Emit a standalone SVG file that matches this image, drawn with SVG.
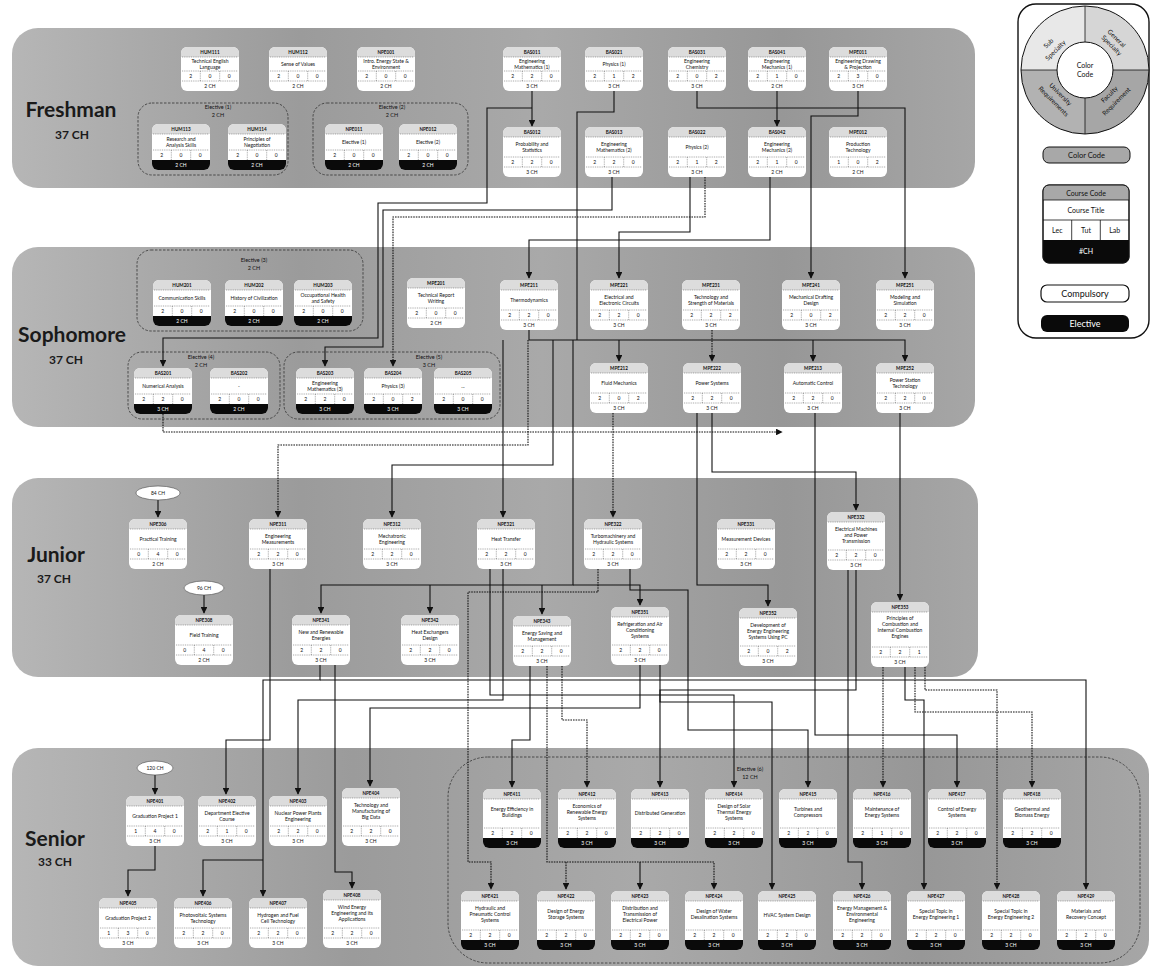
<svg xmlns="http://www.w3.org/2000/svg" xmlns:xlink="http://www.w3.org/1999/xlink" width="1152" height="969" viewBox="0 0 1152 969">
<style>
text{font-family:Lato,"Open Sans","Liberation Sans",sans-serif;text-anchor:middle;fill:#111}
.cd{font-size:4.6px;font-weight:bold}
.t{font-size:5px}
.nm{font-size:5px}
.ch{font-size:5px}
.w{fill:#fff}
.gl{font-size:5.5px}
.yl{font-weight:bold;font-size:21px;fill:#1a1a1a}
.yc{font-weight:bold;font-size:12px;fill:#1a1a1a}
.nb{fill:#fff}
.hd{fill:#dcdcdc}
.dl{fill:none;stroke:#555;stroke-width:0.5;stroke-dasharray:1 0.8}
.blk{fill:#0a0a0a}
.grp{fill:none;stroke:#333;stroke-width:0.8;stroke-dasharray:2.5 1.5}
.c{fill:none;stroke:#111;stroke-width:1.1}
.d{stroke-dasharray:1.6 1}
.ov{fill:#fff;stroke:#444;stroke-width:0.6}
.lg{fill:none;stroke:#111;stroke-width:1.4}
</style>
<defs>
<linearGradient id="bg" x1="0" x2="1" y1="0" y2="0">
<stop offset="0" stop-color="#b6b6b6"/><stop offset="0.3" stop-color="#9b9b9b"/><stop offset="0.55" stop-color="#a9a9a9"/><stop offset="0.8" stop-color="#979797"/><stop offset="1" stop-color="#a6a6a6"/>
</linearGradient>
<marker id="ah" viewBox="0 0 10 10" refX="9" refY="5" markerWidth="6" markerHeight="6" orient="auto"><path d="M0,0L10,5L0,10Z" fill="#111"/></marker>
<symbol id="b44" overflow="visible"><rect class="nb" width="58" height="44" rx="6"/><path class="hd" d="M0,10V6A6,6 0 0 1 6,0H52A6,6 0 0 1 58,6V10Z"/><path class="dl" d="M1,10H57M1,24H57M1,34H57M19.3,24V34M38.7,24V34"/></symbol>
<symbol id="b50" overflow="visible"><rect class="nb" width="58" height="50" rx="6"/><path class="hd" d="M0,10V6A6,6 0 0 1 6,0H52A6,6 0 0 1 58,6V10Z"/><path class="dl" d="M1,10H57M1,30H57M1,40H57M19.3,30V40M38.7,30V40"/></symbol>
<symbol id="b58" overflow="visible"><rect class="nb" width="58" height="58" rx="6"/><path class="hd" d="M0,10V6A6,6 0 0 1 6,0H52A6,6 0 0 1 58,6V10Z"/><path class="dl" d="M1,10H57M1,38H57M1,48H57M19.3,38V48M38.7,38V48"/></symbol>
<symbol id="b65" overflow="visible"><rect class="nb" width="58" height="65" rx="6"/><path class="hd" d="M0,10V6A6,6 0 0 1 6,0H52A6,6 0 0 1 58,6V10Z"/><path class="dl" d="M1,10H57M1,45H57M1,55H57M19.3,45V55M38.7,45V55"/></symbol>
<symbol id="e46" overflow="visible"><rect class="nb" width="58" height="46" rx="6"/><path class="hd" d="M0,10V6A6,6 0 0 1 6,0H52A6,6 0 0 1 58,6V10Z"/><path class="dl" d="M1,10H57M1,26H57M19.3,26V36M38.7,26V36"/><path class="blk" d="M0,36H58V40A6,6 0 0 1 52,46H6A6,6 0 0 1 0,40Z"/></symbol>
<symbol id="e59" overflow="visible"><rect class="nb" width="58" height="59" rx="6"/><path class="hd" d="M0,10V6A6,6 0 0 1 6,0H52A6,6 0 0 1 58,6V10Z"/><path class="dl" d="M1,10H57M1,39H57M19.3,39V49M38.7,39V49"/><path class="blk" d="M0,49H58V53A6,6 0 0 1 52,59H6A6,6 0 0 1 0,53Z"/></symbol>
</defs>

<rect width="1152" height="969" fill="#fff"/>

<g id="bands">
<rect x="12" y="28" width="963" height="160" rx="26" fill="url(#bg)"/>
<rect x="12" y="247" width="963" height="180" rx="26" fill="url(#bg)"/>
<rect x="12" y="478" width="966" height="199" rx="26" fill="url(#bg)"/>
<rect x="12" y="748" width="1137" height="218" rx="26" fill="url(#bg)"/>
<text class="yl" x="71" y="117">Freshman</text><text class="yc" x="72" y="139">37 CH</text>
<text class="yl" x="72" y="342">Sophomore</text><text class="yc" x="66" y="364">37 CH</text>
<text class="yl" x="56" y="562">Junior</text><text class="yc" x="54" y="583">37 CH</text>
<text class="yl" x="55" y="846">Senior</text><text class="yc" x="55" y="866">33 CH</text>
</g>

<g id="groups">
<rect class="grp" x="138" y="103" width="150" height="72" rx="14"/><text class="gl" x="218" y="109">Elective (1)</text><text class="gl" x="218" y="117">2 CH</text>
<rect class="grp" x="313" y="103" width="155" height="72" rx="14"/><text class="gl" x="392" y="109">Elective (2)</text><text class="gl" x="392" y="117">2 CH</text>
<rect class="grp" x="137" y="250" width="226" height="81" rx="14"/><text class="gl" x="254" y="262">Elective (3)</text><text class="gl" x="254" y="270">2 CH</text>
<rect class="grp" x="128" y="352" width="152" height="67" rx="14"/><text class="gl" x="201" y="359">Elective (4)</text><text class="gl" x="201" y="367">2 CH</text>
<rect class="grp" x="284" y="352" width="216" height="67" rx="14"/><text class="gl" x="429" y="359">Elective (5)</text><text class="gl" x="429" y="367">3 CH</text>
<rect class="grp" x="448" y="757" width="692" height="206" rx="40"/><text class="gl" x="750" y="771">Elective (6)</text><text class="gl" x="750" y="779">12 CH</text>
</g>

<g id="connectors">
<path class="c" d="M532,91V126" marker-end="url(#ah)"/>
<path class="c" d="M777,91V126" marker-end="url(#ah)"/>
<path class="c" d="M532,108H487V203H378V338H163V366" marker-end="url(#ah)"/>
<path class="c" d="M612,177V210H383V347H325V366" marker-end="url(#ah)"/>
<path class="c d" d="M705,177V217H393V366" marker-end="url(#ah)"/>
<path class="c" d="M614,91V112H577V340"/>
<path class="c" d="M690,177V232H619V278" marker-end="url(#ah)"/>
<path class="c" d="M770,177V240H529V278" marker-end="url(#ah)"/>
<path class="c" d="M697,91V108H905V278" marker-end="url(#ah)"/>
<path class="c" d="M858,91V116H811V278" marker-end="url(#ah)"/>
<path class="c" d="M529,330V340H905V361" marker-end="url(#ah)"/>
<path class="c" d="M619,340V361" marker-end="url(#ah)"/>
<path class="c d" d="M712,330V361" marker-end="url(#ah)"/>
<path class="c" d="M813,340V361" marker-end="url(#ah)"/>
<path class="c d" d="M163,414V432H782" marker-end="url(#ah)"/>
<path class="c" d="M503,340V517" marker-end="url(#ah)"/>
<path class="c d" d="M528,340V445H278V517" marker-end="url(#ah)"/>
<path class="c" d="M553,340V465H392V517" marker-end="url(#ah)"/>
<path class="c" d="M573,340V585H321V613" marker-end="url(#ah)"/>
<path class="c" d="M430,585V613" marker-end="url(#ah)"/>
<path class="c" d="M542,585V614" marker-end="url(#ah)"/>
<path class="c" d="M573,585H640V605" marker-end="url(#ah)"/>
<path class="c d" d="M613,413V517" marker-end="url(#ah)"/>
<path class="c" d="M712,413V472H856V510" marker-end="url(#ah)"/>
<path class="c" d="M697,413V585H768V606" marker-end="url(#ah)"/>
<path class="c" d="M900,413V600" marker-end="url(#ah)"/>
<path class="c" d="M158,500V517" marker-end="url(#ah)"/>
<path class="c" d="M204,595V613" marker-end="url(#ah)"/>
<path class="c" d="M155,775V794" marker-end="url(#ah)"/>
<path class="c" d="M155,846V870H128V896" marker-end="url(#ah)"/>
<path class="c" d="M270,569V740H226V794" marker-end="url(#ah)"/>
<path class="c" d="M503,569V700H298V794" marker-end="url(#ah)"/>
<path class="c" d="M640,665V708H370V786" marker-end="url(#ah)"/>
<path class="c" d="M320,665V680H263V896" marker-end="url(#ah)"/>
<path class="c" d="M263,860H203V896" marker-end="url(#ah)"/>
<path class="c" d="M335,665V872H352V888" marker-end="url(#ah)"/>
<path class="c" d="M320,680H1086V889" marker-end="url(#ah)"/>
<path class="c" d="M490,569V695H734V787" marker-end="url(#ah)"/>
<path class="c d" d="M598,569V592H468V862H491V889" marker-end="url(#ah)"/>
<path class="c" d="M530,666V740H512V787" marker-end="url(#ah)"/>
<path class="c d" d="M547,666V862H714V889" marker-end="url(#ah)"/>
<path class="c d" d="M566,862V889" marker-end="url(#ah)"/>
<path class="c" d="M640,862V889" marker-end="url(#ah)"/>
<path class="c d" d="M562,666V720H587V787" marker-end="url(#ah)"/>
<path class="c" d="M660,665V702H772V889" marker-end="url(#ah)"/>
<path class="c" d="M630,569V590H688V730H808V787" marker-end="url(#ah)"/>
<path class="c" d="M856,570V690H660V787" marker-end="url(#ah)"/>
<path class="c" d="M848,570V862H862V889" marker-end="url(#ah)"/>
<path class="c d" d="M883,667V787" marker-end="url(#ah)"/>
<path class="c" d="M815,413V735H957V787" marker-end="url(#ah)"/>
<path class="c d" d="M915,667V712H1032V787" marker-end="url(#ah)"/>
<path class="c" d="M905,667V700H924V889" marker-end="url(#ah)"/>
<path class="c d" d="M925,667V690H997V889" marker-end="url(#ah)"/>
</g>

<g id="ovals">
<g id="o-84"><ellipse class="ov" cx="158" cy="493" rx="22" ry="7"/><text class="t" x="158" y="494.8">84 CH</text></g>
<g id="o-96"><ellipse class="ov" cx="204" cy="588" rx="20" ry="7"/><text class="t" x="204" y="589.8">96 CH</text></g>
<g id="o-120"><ellipse class="ov" cx="155" cy="768" rx="18" ry="7"/><text class="t" x="155" y="769.8">120 CH</text></g>
</g>

<g id="n-F1" transform="translate(181,47)"><use href="#b44"/><text class="cd" x="29" y="7">HUM111</text><text class="t" x="29" y="15.8">Technical English</text><text class="t" x="29" y="21.8">Language</text><text class="nm" y="30.5"><tspan x="9.7">2</tspan><tspan x="29">0</tspan><tspan x="48.3">0</tspan></text><text class="ch" x="29" y="40.8">2 CH</text></g>
<g id="n-F2" transform="translate(269,47)"><use href="#b44"/><text class="cd" x="29" y="7">HUM112</text><text class="t" x="29" y="19">Sense of Values</text><text class="nm" y="30.5"><tspan x="9.7">2</tspan><tspan x="29">0</tspan><tspan x="48.3">0</tspan></text><text class="ch" x="29" y="40.8">2 CH</text></g>
<g id="n-F3" transform="translate(357,47)"><use href="#b44"/><text class="cd" x="29" y="7">NPE001</text><text class="t" x="29" y="15.8">Intro. Energy State &amp;</text><text class="t" x="29" y="21.8">Environment</text><text class="nm" y="30.5"><tspan x="9.7">2</tspan><tspan x="29">0</tspan><tspan x="48.3">0</tspan></text><text class="ch" x="29" y="40.8">2 CH</text></g>
<g id="n-F4" transform="translate(503,47)"><use href="#b44"/><text class="cd" x="29" y="7">BAS011</text><text class="t" x="29" y="15.8">Engineering</text><text class="t" x="29" y="21.8">Mathematics (1)</text><text class="nm" y="30.5"><tspan x="9.7">2</tspan><tspan x="29">2</tspan><tspan x="48.3">0</tspan></text><text class="ch" x="29" y="40.8">3 CH</text></g>
<g id="n-F5" transform="translate(585,47)"><use href="#b44"/><text class="cd" x="29" y="7">BAS021</text><text class="t" x="29" y="19">Physics (1)</text><text class="nm" y="30.5"><tspan x="9.7">2</tspan><tspan x="29">1</tspan><tspan x="48.3">2</tspan></text><text class="ch" x="29" y="40.8">3 CH</text></g>
<g id="n-F6" transform="translate(668,47)"><use href="#b44"/><text class="cd" x="29" y="7">BAS031</text><text class="t" x="29" y="15.8">Engineering</text><text class="t" x="29" y="21.8">Chemistry</text><text class="nm" y="30.5"><tspan x="9.7">2</tspan><tspan x="29">0</tspan><tspan x="48.3">2</tspan></text><text class="ch" x="29" y="40.8">3 CH</text></g>
<g id="n-F7" transform="translate(748,47)"><use href="#b44"/><text class="cd" x="29" y="7">BAS041</text><text class="t" x="29" y="15.8">Engineering</text><text class="t" x="29" y="21.8">Mechanics (1)</text><text class="nm" y="30.5"><tspan x="9.7">2</tspan><tspan x="29">1</tspan><tspan x="48.3">0</tspan></text><text class="ch" x="29" y="40.8">2 CH</text></g>
<g id="n-F8" transform="translate(829,47)"><use href="#b44"/><text class="cd" x="29" y="7">MPE011</text><text class="t" x="29" y="15.8">Engineering Drawing</text><text class="t" x="29" y="21.8">&amp; Projection</text><text class="nm" y="30.5"><tspan x="9.7">2</tspan><tspan x="29">3</tspan><tspan x="48.3">0</tspan></text><text class="ch" x="29" y="40.8">3 CH</text></g>
<g id="n-F9" transform="translate(503,127)"><use href="#b50"/><text class="cd" x="29" y="7">BAS012</text><text class="t" x="29" y="18.5">Probability and</text><text class="t" x="29" y="25">Statistics</text><text class="nm" y="36.5"><tspan x="9.7">2</tspan><tspan x="29">2</tspan><tspan x="48.3">0</tspan></text><text class="ch" x="29" y="46.8">3 CH</text></g>
<g id="n-F10" transform="translate(585,127)"><use href="#b50"/><text class="cd" x="29" y="7">BAS013</text><text class="t" x="29" y="18.5">Engineering</text><text class="t" x="29" y="25">Mathematics (2)</text><text class="nm" y="36.5"><tspan x="9.7">2</tspan><tspan x="29">2</tspan><tspan x="48.3">0</tspan></text><text class="ch" x="29" y="46.8">3 CH</text></g>
<g id="n-F11" transform="translate(668,127)"><use href="#b50"/><text class="cd" x="29" y="7">BAS022</text><text class="t" x="29" y="22">Physics (2)</text><text class="nm" y="36.5"><tspan x="9.7">2</tspan><tspan x="29">1</tspan><tspan x="48.3">2</tspan></text><text class="ch" x="29" y="46.8">3 CH</text></g>
<g id="n-F12" transform="translate(748,127)"><use href="#b50"/><text class="cd" x="29" y="7">BAS042</text><text class="t" x="29" y="18.5">Engineering</text><text class="t" x="29" y="25">Mechanics (2)</text><text class="nm" y="36.5"><tspan x="9.7">2</tspan><tspan x="29">1</tspan><tspan x="48.3">0</tspan></text><text class="ch" x="29" y="46.8">2 CH</text></g>
<g id="n-F13" transform="translate(829,127)"><use href="#b50"/><text class="cd" x="29" y="7">MPE012</text><text class="t" x="29" y="18.5">Production</text><text class="t" x="29" y="25">Technology</text><text class="nm" y="36.5"><tspan x="9.7">1</tspan><tspan x="29">0</tspan><tspan x="48.3">2</tspan></text><text class="ch" x="29" y="46.8">2 CH</text></g>
<g id="n-F14" transform="translate(152,124)"><use href="#e46"/><text class="cd" x="29" y="7">HUM113</text><text class="t" x="29" y="16.5">Research and</text><text class="t" x="29" y="22.5">Analysis Skills</text><text class="nm" y="32.5"><tspan x="9.7">2</tspan><tspan x="29">0</tspan><tspan x="48.3">0</tspan></text><text class="ch w" x="29" y="42.8">2 CH</text></g>
<g id="n-F15" transform="translate(228,124)"><use href="#e46"/><text class="cd" x="29" y="7">HUM114</text><text class="t" x="29" y="16.5">Principles of</text><text class="t" x="29" y="22.5">Negotiation</text><text class="nm" y="32.5"><tspan x="9.7">2</tspan><tspan x="29">0</tspan><tspan x="48.3">0</tspan></text><text class="ch w" x="29" y="42.8">2 CH</text></g>
<g id="n-F16" transform="translate(325,124)"><use href="#e46"/><text class="cd" x="29" y="7">NPE011</text><text class="t" x="29" y="20">Elective (1)</text><text class="nm" y="32.5"><tspan x="9.7">2</tspan><tspan x="29">0</tspan><tspan x="48.3">0</tspan></text><text class="ch w" x="29" y="42.8">2 CH</text></g>
<g id="n-F17" transform="translate(399,124)"><use href="#e46"/><text class="cd" x="29" y="7">NPE012</text><text class="t" x="29" y="20">Elective (2)</text><text class="nm" y="32.5"><tspan x="9.7">2</tspan><tspan x="29">0</tspan><tspan x="48.3">0</tspan></text><text class="ch w" x="29" y="42.8">2 CH</text></g>

<g id="n-S1" transform="translate(153,280)"><use href="#e46"/><text class="cd" x="29" y="7">HUM201</text><text class="t" x="29" y="20">Communication Skills</text><text class="nm" y="32.5"><tspan x="9.7">2</tspan><tspan x="29">0</tspan><tspan x="48.3">0</tspan></text><text class="ch w" x="29" y="42.8">2 CH</text></g>
<g id="n-S2" transform="translate(225,280)"><use href="#e46"/><text class="cd" x="29" y="7">HUM202</text><text class="t" x="29" y="20">History of Civilization</text><text class="nm" y="32.5"><tspan x="9.7">2</tspan><tspan x="29">0</tspan><tspan x="48.3">0</tspan></text><text class="ch w" x="29" y="42.8">2 CH</text></g>
<g id="n-S3" transform="translate(294,280)"><use href="#e46"/><text class="cd" x="29" y="7">HUM203</text><text class="t" x="29" y="16.5">Occupational Health</text><text class="t" x="29" y="22.5">and Safety</text><text class="nm" y="32.5"><tspan x="9.7">2</tspan><tspan x="29">0</tspan><tspan x="48.3">0</tspan></text><text class="ch w" x="29" y="42.8">2 CH</text></g>
<g id="n-S4" transform="translate(407,278)"><use href="#b50"/><text class="cd" x="29" y="7">MPE201</text><text class="t" x="29" y="18.5">Technical Report</text><text class="t" x="29" y="25">Writing</text><text class="nm" y="36.5"><tspan x="9.7">2</tspan><tspan x="29">0</tspan><tspan x="48.3">0</tspan></text><text class="ch" x="29" y="46.8">2 CH</text></g>
<g id="n-S5" transform="translate(500,280)"><use href="#b50"/><text class="cd" x="29" y="7">MPE211</text><text class="t" x="29" y="22">Thermodynamics</text><text class="nm" y="36.5"><tspan x="9.7">2</tspan><tspan x="29">2</tspan><tspan x="48.3">0</tspan></text><text class="ch" x="29" y="46.8">3 CH</text></g>
<g id="n-S6" transform="translate(590,280)"><use href="#b50"/><text class="cd" x="29" y="7">MPE221</text><text class="t" x="29" y="18.5">Electrical and</text><text class="t" x="29" y="25">Electronic Circuits</text><text class="nm" y="36.5"><tspan x="9.7">2</tspan><tspan x="29">2</tspan><tspan x="48.3">0</tspan></text><text class="ch" x="29" y="46.8">3 CH</text></g>
<g id="n-S7" transform="translate(682,280)"><use href="#b50"/><text class="cd" x="29" y="7">MPE231</text><text class="t" x="29" y="18.5">Technology and</text><text class="t" x="29" y="25">Strength of Materials</text><text class="nm" y="36.5"><tspan x="9.7">2</tspan><tspan x="29">2</tspan><tspan x="48.3">2</tspan></text><text class="ch" x="29" y="46.8">3 CH</text></g>
<g id="n-S8" transform="translate(782,280)"><use href="#b50"/><text class="cd" x="29" y="7">MPE241</text><text class="t" x="29" y="18.5">Mechanical Drafting</text><text class="t" x="29" y="25">Design</text><text class="nm" y="36.5"><tspan x="9.7">2</tspan><tspan x="29">0</tspan><tspan x="48.3">2</tspan></text><text class="ch" x="29" y="46.8">3 CH</text></g>
<g id="n-S9" transform="translate(876,280)"><use href="#b50"/><text class="cd" x="29" y="7">MPE251</text><text class="t" x="29" y="18.5">Modeling and</text><text class="t" x="29" y="25">Simulation</text><text class="nm" y="36.5"><tspan x="9.7">2</tspan><tspan x="29">2</tspan><tspan x="48.3">0</tspan></text><text class="ch" x="29" y="46.8">3 CH</text></g>
<g id="n-S10" transform="translate(134,368)"><use href="#e46"/><text class="cd" x="29" y="7">BAS201</text><text class="t" x="29" y="20">Numerical Analysis</text><text class="nm" y="32.5"><tspan x="9.7">2</tspan><tspan x="29">2</tspan><tspan x="48.3">0</tspan></text><text class="ch w" x="29" y="42.8">3 CH</text></g>
<g id="n-S11" transform="translate(210,368)"><use href="#e46"/><text class="cd" x="29" y="7">BAS202</text><text class="t" x="29" y="20">-</text><text class="nm" y="32.5"><tspan x="9.7">2</tspan><tspan x="29">0</tspan><tspan x="48.3">0</tspan></text><text class="ch w" x="29" y="42.8">2 CH</text></g>
<g id="n-S12" transform="translate(296,368)"><use href="#e46"/><text class="cd" x="29" y="7">BAS203</text><text class="t" x="29" y="16.5">Engineering</text><text class="t" x="29" y="22.5">Mathematics (3)</text><text class="nm" y="32.5"><tspan x="9.7">2</tspan><tspan x="29">2</tspan><tspan x="48.3">0</tspan></text><text class="ch w" x="29" y="42.8">3 CH</text></g>
<g id="n-S13" transform="translate(364,368)"><use href="#e46"/><text class="cd" x="29" y="7">BAS204</text><text class="t" x="29" y="20">Physics (3)</text><text class="nm" y="32.5"><tspan x="9.7">2</tspan><tspan x="29">0</tspan><tspan x="48.3">2</tspan></text><text class="ch w" x="29" y="42.8">3 CH</text></g>
<g id="n-S14" transform="translate(434,368)"><use href="#e46"/><text class="cd" x="29" y="7">BAS205</text><text class="t" x="29" y="20">...</text><text class="nm" y="32.5"><tspan x="9.7">2</tspan><tspan x="29">0</tspan><tspan x="48.3">0</tspan></text><text class="ch w" x="29" y="42.8">3 CH</text></g>
<g id="n-S15" transform="translate(590,363)"><use href="#b50"/><text class="cd" x="29" y="7">MPE212</text><text class="t" x="29" y="22">Fluid Mechanics</text><text class="nm" y="36.5"><tspan x="9.7">2</tspan><tspan x="29">0</tspan><tspan x="48.3">2</tspan></text><text class="ch" x="29" y="46.8">3 CH</text></g>
<g id="n-S16" transform="translate(683,363)"><use href="#b50"/><text class="cd" x="29" y="7">MPE222</text><text class="t" x="29" y="22">Power Systems</text><text class="nm" y="36.5"><tspan x="9.7">2</tspan><tspan x="29">2</tspan><tspan x="48.3">0</tspan></text><text class="ch" x="29" y="46.8">3 CH</text></g>
<g id="n-S17" transform="translate(784,363)"><use href="#b50"/><text class="cd" x="29" y="7">MPE213</text><text class="t" x="29" y="22">Automatic Control</text><text class="nm" y="36.5"><tspan x="9.7">2</tspan><tspan x="29">2</tspan><tspan x="48.3">0</tspan></text><text class="ch" x="29" y="46.8">3 CH</text></g>
<g id="n-S18" transform="translate(876,363)"><use href="#b50"/><text class="cd" x="29" y="7">MPE252</text><text class="t" x="29" y="18.5">Power Station</text><text class="t" x="29" y="25">Technology</text><text class="nm" y="36.5"><tspan x="9.7">2</tspan><tspan x="29">2</tspan><tspan x="48.3">0</tspan></text><text class="ch" x="29" y="46.8">3 CH</text></g>

<g id="n-J1" transform="translate(129,519)"><use href="#b50"/><text class="cd" x="29" y="7">NPE306</text><text class="t" x="29" y="22">Practical Training</text><text class="nm" y="36.5"><tspan x="9.7">0</tspan><tspan x="29">4</tspan><tspan x="48.3">0</tspan></text><text class="ch" x="29" y="46.8">2 CH</text></g>
<g id="n-J2" transform="translate(249,519)"><use href="#b50"/><text class="cd" x="29" y="7">NPE311</text><text class="t" x="29" y="18.5">Engineering</text><text class="t" x="29" y="25">Measurements</text><text class="nm" y="36.5"><tspan x="9.7">2</tspan><tspan x="29">2</tspan><tspan x="48.3">0</tspan></text><text class="ch" x="29" y="46.8">3 CH</text></g>
<g id="n-J3" transform="translate(363,519)"><use href="#b50"/><text class="cd" x="29" y="7">NPE312</text><text class="t" x="29" y="18.5">Mechatronic</text><text class="t" x="29" y="25">Engineering</text><text class="nm" y="36.5"><tspan x="9.7">2</tspan><tspan x="29">2</tspan><tspan x="48.3">0</tspan></text><text class="ch" x="29" y="46.8">3 CH</text></g>
<g id="n-J4" transform="translate(477,519)"><use href="#b50"/><text class="cd" x="29" y="7">NPE321</text><text class="t" x="29" y="22">Heat Transfer</text><text class="nm" y="36.5"><tspan x="9.7">2</tspan><tspan x="29">2</tspan><tspan x="48.3">0</tspan></text><text class="ch" x="29" y="46.8">3 CH</text></g>
<g id="n-J5" transform="translate(584,519)"><use href="#b50"/><text class="cd" x="29" y="7">NPE322</text><text class="t" x="29" y="18.5">Turbomachinery and</text><text class="t" x="29" y="25">Hydraulic Systems</text><text class="nm" y="36.5"><tspan x="9.7">2</tspan><tspan x="29">2</tspan><tspan x="48.3">0</tspan></text><text class="ch" x="29" y="46.8">3 CH</text></g>
<g id="n-J6" transform="translate(717,519)"><use href="#b50"/><text class="cd" x="29" y="7">NPE331</text><text class="t" x="29" y="22">Measurement Devices</text><text class="nm" y="36.5"><tspan x="9.7">2</tspan><tspan x="29">2</tspan><tspan x="48.3">0</tspan></text><text class="ch" x="29" y="46.8">3 CH</text></g>
<g id="n-J7" transform="translate(827,512)"><use href="#b58"/><text class="cd" x="29" y="7">NPE332</text><text class="t" x="29" y="18.5">Electrical Machines</text><text class="t" x="29" y="24.5">and Power</text><text class="t" x="29" y="30.5">Transmission</text><text class="nm" y="44.5"><tspan x="9.7">2</tspan><tspan x="29">2</tspan><tspan x="48.3">0</tspan></text><text class="ch" x="29" y="54.8">3 CH</text></g>
<g id="n-J9" transform="translate(175,615)"><use href="#b50"/><text class="cd" x="29" y="7">NPE308</text><text class="t" x="29" y="22">Field Training</text><text class="nm" y="36.5"><tspan x="9.7">0</tspan><tspan x="29">4</tspan><tspan x="48.3">0</tspan></text><text class="ch" x="29" y="46.8">2 CH</text></g>
<g id="n-J10" transform="translate(292,615)"><use href="#b50"/><text class="cd" x="29" y="7">NPE341</text><text class="t" x="29" y="18.5">New and Renewable</text><text class="t" x="29" y="25">Energies</text><text class="nm" y="36.5"><tspan x="9.7">2</tspan><tspan x="29">2</tspan><tspan x="48.3">0</tspan></text><text class="ch" x="29" y="46.8">3 CH</text></g>
<g id="n-J11" transform="translate(401,615)"><use href="#b50"/><text class="cd" x="29" y="7">NPE342</text><text class="t" x="29" y="18.5">Heat Exchangers</text><text class="t" x="29" y="25">Design</text><text class="nm" y="36.5"><tspan x="9.7">2</tspan><tspan x="29">2</tspan><tspan x="48.3">0</tspan></text><text class="ch" x="29" y="46.8">3 CH</text></g>
<g id="n-J12" transform="translate(513,616)"><use href="#b50"/><text class="cd" x="29" y="7">NPE343</text><text class="t" x="29" y="18.5">Energy Saving and</text><text class="t" x="29" y="25">Management</text><text class="nm" y="36.5"><tspan x="9.7">2</tspan><tspan x="29">2</tspan><tspan x="48.3">0</tspan></text><text class="ch" x="29" y="46.8">3 CH</text></g>
<g id="n-J13" transform="translate(611,607)"><use href="#b58"/><text class="cd" x="29" y="7">NPE351</text><text class="t" x="29" y="18.5">Refrigeration and Air</text><text class="t" x="29" y="24.5">Conditioning</text><text class="t" x="29" y="30.5">Systems</text><text class="nm" y="44.5"><tspan x="9.7">2</tspan><tspan x="29">2</tspan><tspan x="48.3">0</tspan></text><text class="ch" x="29" y="54.8">3 CH</text></g>
<g id="n-J14" transform="translate(739,608)"><use href="#b58"/><text class="cd" x="29" y="7">NPE352</text><text class="t" x="29" y="18.5">Development of</text><text class="t" x="29" y="24.5">Energy Engineering</text><text class="t" x="29" y="30.5">Systems Using PC</text><text class="nm" y="44.5"><tspan x="9.7">2</tspan><tspan x="29">0</tspan><tspan x="48.3">2</tspan></text><text class="ch" x="29" y="54.8">3 CH</text></g>
<g id="n-J15" transform="translate(871,602)"><use href="#b65"/><text class="cd" x="29" y="7">NPE353</text><text class="t" x="29" y="18">Principles of</text><text class="t" x="29" y="24">Combustion and</text><text class="t" x="29" y="30">Internal Combustion</text><text class="t" x="29" y="36">Engines</text><text class="nm" y="51.5"><tspan x="9.7">2</tspan><tspan x="29">2</tspan><tspan x="48.3">1</tspan></text><text class="ch" x="29" y="61.8">3 CH</text></g>

<g id="n-Q1" transform="translate(126,796)"><use href="#b50"/><text class="cd" x="29" y="7">NPE401</text><text class="t" x="29" y="22">Graduation Project 1</text><text class="nm" y="36.5"><tspan x="9.7">1</tspan><tspan x="29">4</tspan><tspan x="48.3">0</tspan></text><text class="ch" x="29" y="46.8">3 CH</text></g>
<g id="n-Q2" transform="translate(198,796)"><use href="#b50"/><text class="cd" x="29" y="7">NPE402</text><text class="t" x="29" y="18.5">Department Elective</text><text class="t" x="29" y="25">Course</text><text class="nm" y="36.5"><tspan x="9.7">2</tspan><tspan x="29">1</tspan><tspan x="48.3">0</tspan></text><text class="ch" x="29" y="46.8">3 CH</text></g>
<g id="n-Q3" transform="translate(269,796)"><use href="#b50"/><text class="cd" x="29" y="7">NPE403</text><text class="t" x="29" y="18.5">Nuclear Power Plants</text><text class="t" x="29" y="25">Engineering</text><text class="nm" y="36.5"><tspan x="9.7">2</tspan><tspan x="29">2</tspan><tspan x="48.3">0</tspan></text><text class="ch" x="29" y="46.8">3 CH</text></g>
<g id="n-Q4" transform="translate(342,788)"><use href="#b58"/><text class="cd" x="29" y="7">NPE404</text><text class="t" x="29" y="18.5">Technology and</text><text class="t" x="29" y="24.5">Manufacturing of</text><text class="t" x="29" y="30.5">Big Data</text><text class="nm" y="44.5"><tspan x="9.7">2</tspan><tspan x="29">2</tspan><tspan x="48.3">0</tspan></text><text class="ch" x="29" y="54.8">3 CH</text></g>
<g id="n-Q5" transform="translate(99,898)"><use href="#b50"/><text class="cd" x="29" y="7">NPE405</text><text class="t" x="29" y="22">Graduation Project 2</text><text class="nm" y="36.5"><tspan x="9.7">1</tspan><tspan x="29">3</tspan><tspan x="48.3">0</tspan></text><text class="ch" x="29" y="46.8">3 CH</text></g>
<g id="n-Q6" transform="translate(174,898)"><use href="#b50"/><text class="cd" x="29" y="7">NPE406</text><text class="t" x="29" y="18.5">Photovoltaic Systems</text><text class="t" x="29" y="25">Technology</text><text class="nm" y="36.5"><tspan x="9.7">2</tspan><tspan x="29">2</tspan><tspan x="48.3">0</tspan></text><text class="ch" x="29" y="46.8">3 CH</text></g>
<g id="n-Q7" transform="translate(249,898)"><use href="#b50"/><text class="cd" x="29" y="7">NPE407</text><text class="t" x="29" y="18.5">Hydrogen and Fuel</text><text class="t" x="29" y="25">Cell Technology</text><text class="nm" y="36.5"><tspan x="9.7">2</tspan><tspan x="29">2</tspan><tspan x="48.3">0</tspan></text><text class="ch" x="29" y="46.8">3 CH</text></g>
<g id="n-Q8" transform="translate(323,890)"><use href="#b58"/><text class="cd" x="29" y="7">NPE408</text><text class="t" x="29" y="18.5">Wind Energy</text><text class="t" x="29" y="24.5">Engineering and its</text><text class="t" x="29" y="30.5">Applications</text><text class="nm" y="44.5"><tspan x="9.7">2</tspan><tspan x="29">2</tspan><tspan x="48.3">0</tspan></text><text class="ch" x="29" y="54.8">3 CH</text></g>
<g id="n-Q9" transform="translate(483,789)"><use href="#e59"/><text class="cd" x="29" y="7">NPE411</text><text class="t" x="29" y="22">Energy Efficiency in</text><text class="t" x="29" y="28">Buildings</text><text class="nm" y="45.5"><tspan x="9.7">2</tspan><tspan x="29">2</tspan><tspan x="48.3">0</tspan></text><text class="ch w" x="29" y="55.8">3 CH</text></g>
<g id="n-Q10" transform="translate(558,789)"><use href="#e59"/><text class="cd" x="29" y="7">NPE412</text><text class="t" x="29" y="18.5">Economics of</text><text class="t" x="29" y="24.5">Renewable Energy</text><text class="t" x="29" y="30.5">Systems</text><text class="nm" y="45.5"><tspan x="9.7">2</tspan><tspan x="29">2</tspan><tspan x="48.3">0</tspan></text><text class="ch w" x="29" y="55.8">3 CH</text></g>
<g id="n-Q11" transform="translate(631,789)"><use href="#e59"/><text class="cd" x="29" y="7">NPE413</text><text class="t" x="29" y="26">Distributed Generation</text><text class="nm" y="45.5"><tspan x="9.7">2</tspan><tspan x="29">2</tspan><tspan x="48.3">0</tspan></text><text class="ch w" x="29" y="55.8">3 CH</text></g>
<g id="n-Q12" transform="translate(705,789)"><use href="#e59"/><text class="cd" x="29" y="7">NPE414</text><text class="t" x="29" y="18.5">Design of Solar</text><text class="t" x="29" y="24.5">Thermal Energy</text><text class="t" x="29" y="30.5">Systems</text><text class="nm" y="45.5"><tspan x="9.7">2</tspan><tspan x="29">2</tspan><tspan x="48.3">0</tspan></text><text class="ch w" x="29" y="55.8">3 CH</text></g>
<g id="n-Q13" transform="translate(779,789)"><use href="#e59"/><text class="cd" x="29" y="7">NPE415</text><text class="t" x="29" y="22">Turbines and</text><text class="t" x="29" y="28">Compressors</text><text class="nm" y="45.5"><tspan x="9.7">2</tspan><tspan x="29">2</tspan><tspan x="48.3">0</tspan></text><text class="ch w" x="29" y="55.8">3 CH</text></g>
<g id="n-Q14" transform="translate(853,789)"><use href="#e59"/><text class="cd" x="29" y="7">NPE416</text><text class="t" x="29" y="22">Maintenance of</text><text class="t" x="29" y="28">Energy Systems</text><text class="nm" y="45.5"><tspan x="9.7">2</tspan><tspan x="29">1</tspan><tspan x="48.3">0</tspan></text><text class="ch w" x="29" y="55.8">3 CH</text></g>
<g id="n-Q15" transform="translate(928,789)"><use href="#e59"/><text class="cd" x="29" y="7">NPE417</text><text class="t" x="29" y="22">Control of Energy</text><text class="t" x="29" y="28">Systems</text><text class="nm" y="45.5"><tspan x="9.7">2</tspan><tspan x="29">2</tspan><tspan x="48.3">0</tspan></text><text class="ch w" x="29" y="55.8">3 CH</text></g>
<g id="n-Q16" transform="translate(1003,789)"><use href="#e59"/><text class="cd" x="29" y="7">NPE418</text><text class="t" x="29" y="22">Geothermal and</text><text class="t" x="29" y="28">Biomass Energy</text><text class="nm" y="45.5"><tspan x="9.7">2</tspan><tspan x="29">2</tspan><tspan x="48.3">0</tspan></text><text class="ch w" x="29" y="55.8">3 CH</text></g>
<g id="n-Q17" transform="translate(461,891)"><use href="#e59"/><text class="cd" x="29" y="7">NPE421</text><text class="t" x="29" y="18.5">Hydraulic and</text><text class="t" x="29" y="24.5">Pneumatic Control</text><text class="t" x="29" y="30.5">Systems</text><text class="nm" y="45.5"><tspan x="9.7">2</tspan><tspan x="29">2</tspan><tspan x="48.3">0</tspan></text><text class="ch w" x="29" y="55.8">3 CH</text></g>
<g id="n-Q18" transform="translate(537,891)"><use href="#e59"/><text class="cd" x="29" y="7">NPE422</text><text class="t" x="29" y="22">Design of Energy</text><text class="t" x="29" y="28">Storage Systems</text><text class="nm" y="45.5"><tspan x="9.7">2</tspan><tspan x="29">2</tspan><tspan x="48.3">0</tspan></text><text class="ch w" x="29" y="55.8">3 CH</text></g>
<g id="n-Q19" transform="translate(611,891)"><use href="#e59"/><text class="cd" x="29" y="7">NPE423</text><text class="t" x="29" y="18.5">Distribution and</text><text class="t" x="29" y="24.5">Transmission of</text><text class="t" x="29" y="30.5">Electrical Power</text><text class="nm" y="45.5"><tspan x="9.7">2</tspan><tspan x="29">2</tspan><tspan x="48.3">0</tspan></text><text class="ch w" x="29" y="55.8">3 CH</text></g>
<g id="n-Q20" transform="translate(685,891)"><use href="#e59"/><text class="cd" x="29" y="7">NPE424</text><text class="t" x="29" y="22">Design of Water</text><text class="t" x="29" y="28">Desalination Systems</text><text class="nm" y="45.5"><tspan x="9.7">2</tspan><tspan x="29">2</tspan><tspan x="48.3">0</tspan></text><text class="ch w" x="29" y="55.8">3 CH</text></g>
<g id="n-Q21" transform="translate(758,891)"><use href="#e59"/><text class="cd" x="29" y="7">NPE425</text><text class="t" x="29" y="26">HVAC System Design</text><text class="nm" y="45.5"><tspan x="9.7">2</tspan><tspan x="29">2</tspan><tspan x="48.3">0</tspan></text><text class="ch w" x="29" y="55.8">3 CH</text></g>
<g id="n-Q22" transform="translate(833,891)"><use href="#e59"/><text class="cd" x="29" y="7">NPE426</text><text class="t" x="29" y="18.5">Energy Management &amp;</text><text class="t" x="29" y="24.5">Environmental</text><text class="t" x="29" y="30.5">Engineering</text><text class="nm" y="45.5"><tspan x="9.7">2</tspan><tspan x="29">2</tspan><tspan x="48.3">0</tspan></text><text class="ch w" x="29" y="55.8">3 CH</text></g>
<g id="n-Q23" transform="translate(907,891)"><use href="#e59"/><text class="cd" x="29" y="7">NPE427</text><text class="t" x="29" y="22">Special Topic in</text><text class="t" x="29" y="28">Energy Engineering 1</text><text class="nm" y="45.5"><tspan x="9.7">2</tspan><tspan x="29">2</tspan><tspan x="48.3">0</tspan></text><text class="ch w" x="29" y="55.8">3 CH</text></g>
<g id="n-Q24" transform="translate(982,891)"><use href="#e59"/><text class="cd" x="29" y="7">NPE428</text><text class="t" x="29" y="22">Special Topic in</text><text class="t" x="29" y="28">Energy Engineering 2</text><text class="nm" y="45.5"><tspan x="9.7">2</tspan><tspan x="29">2</tspan><tspan x="48.3">0</tspan></text><text class="ch w" x="29" y="55.8">3 CH</text></g>
<g id="n-Q25" transform="translate(1057,891)"><use href="#e59"/><text class="cd" x="29" y="7">NPE429</text><text class="t" x="29" y="22">Materials and</text><text class="t" x="29" y="28">Recovery Concept</text><text class="nm" y="45.5"><tspan x="9.7">2</tspan><tspan x="29">2</tspan><tspan x="48.3">0</tspan></text><text class="ch w" x="29" y="55.8">3 CH</text></g>

<g id="legend">
<rect class="lg" x="1018" y="4" width="131" height="334" rx="18" fill="#fff"/>
<path d="M1085,70V6A64,64 0 0 0 1021,70Z" fill="#e8e8e8"/>
<path d="M1085,70V6A64,64 0 0 1 1149,70Z" fill="#d6d6d6"/>
<path d="M1085,70H1021A64,64 0 0 0 1085,134Z" fill="#b2b2b2"/>
<path d="M1085,70H1149A64,64 0 0 1 1085,134Z" fill="#a6a6a6"/>
<circle cx="1085" cy="70" r="64" fill="none" stroke="#111" stroke-width="1"/>
<path d="M1085,6V134M1021,70H1149" stroke="#111" stroke-width="0.8"/>
<circle cx="1085" cy="70" r="28" fill="#fff" stroke="#111" stroke-width="1"/>
<text x="1085" y="68" style="font-size:7px">Color</text><text x="1085" y="77" style="font-size:7px">Code</text>
<text transform="translate(1050,45) rotate(-45)" style="font-size:6.5px">Sub</text>
<text transform="translate(1057,52) rotate(-45)" style="font-size:6.5px">Specialty</text>
<text transform="translate(1115,40) rotate(45)" style="font-size:6.5px">General</text>
<text transform="translate(1110,47) rotate(45)" style="font-size:6.5px">Specialty</text>
<text transform="translate(1059,96) rotate(45)" style="font-size:6.5px">University</text>
<text transform="translate(1052,103) rotate(45)" style="font-size:6.5px">Requirements</text>
<text transform="translate(1111,96) rotate(-45)" style="font-size:6.5px">Faculty</text>
<text transform="translate(1118,103) rotate(-45)" style="font-size:6.5px">Requirement</text>
<rect x="1043" y="147" width="87" height="16" rx="6" fill="#a8a8a8" stroke="#111" stroke-width="1"/>
<text x="1086.5" y="157.8" style="font-size:7.5px">Color Code</text>
<rect x="1043" y="185" width="86" height="78" rx="6" fill="#fff" stroke="#111" stroke-width="1"/>
<path d="M1043,200V191A6,6 0 0 1 1049,185H1123A6,6 0 0 1 1129,191V200Z" fill="#a8a8a8"/>
<path d="M1043,240H1129V257A6,6 0 0 1 1123,263H1049A6,6 0 0 1 1043,257Z" fill="#0a0a0a"/>
<path d="M1043,200H1129M1043,220H1129M1071.7,220V240M1100.3,220V240" stroke="#111" stroke-width="0.8"/>
<rect x="1043" y="185" width="86" height="78" rx="6" fill="none" stroke="#111" stroke-width="1"/>
<text x="1086" y="195.5" style="font-size:7px">Course Code</text>
<text x="1086" y="213" style="font-size:7px">Course Title</text>
<text x="1057.3" y="233" style="font-size:7px">Lec</text><text x="1086" y="233" style="font-size:7px">Tut</text><text x="1114.7" y="233" style="font-size:7px">Lab</text>
<text x="1086" y="254" style="font-size:7px;fill:#fff">#CH</text>
<rect x="1041" y="285" width="88" height="17" rx="6" fill="#fff" stroke="#111" stroke-width="1.2"/>
<text x="1085" y="296.8" style="font-size:9px">Compulsory</text>
<rect x="1041" y="315" width="88" height="17" rx="6" fill="#0a0a0a"/>
<text x="1085" y="326.8" style="font-size:9px;fill:#fff">Elective</text>
</g>
</svg>
